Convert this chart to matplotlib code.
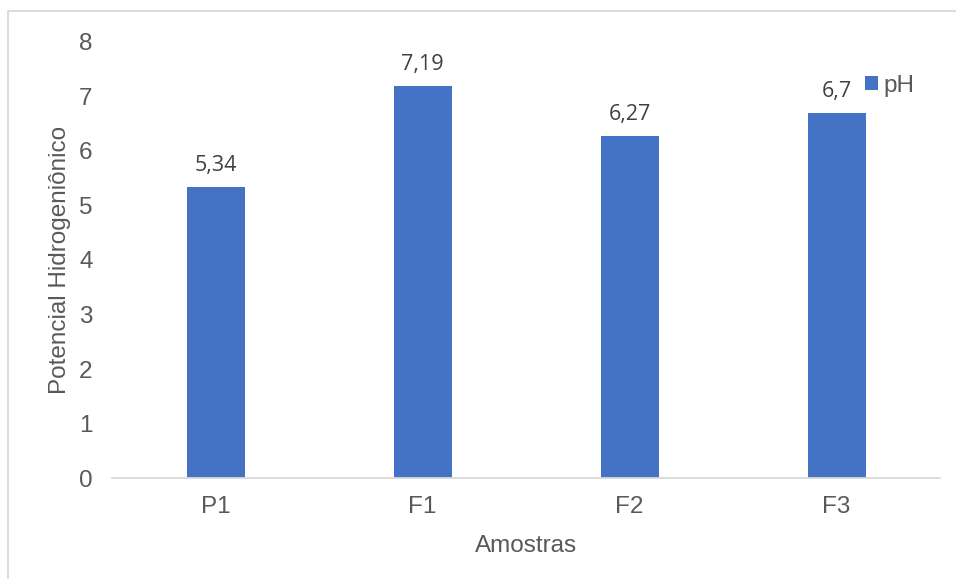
#!/usr/bin/env python3

'''Bar chart of pH per sample.'''

import matplotlib
matplotlib.use('Agg')
import matplotlib.pyplot as plt
from matplotlib.patches import Rectangle

SAMPLES = ['P1', 'F1', 'F2', 'F3']
PH_VALUES = [5.34, 7.19, 6.27, 6.7]
Y_TICKS = [0, 1, 2, 3, 4, 5, 6, 7, 8]

BAR_COLOR = '#4472c4'
TEXT_COLOR = '#595959'
LABEL_COLOR = '#404040'
LINE_COLOR = '#d9d9d9'
FONT_SIZE = 17.5


def fmt_value(value):
    '''Decimal comma, as in the original labels.'''
    return ('%g' % value).replace('.', ',')


def main():
    plt.rcParams['font.family'] = ['Liberation Sans', 'DejaVu Sans']
    fig = plt.figure(figsize=(9.56, 5.79), dpi=100)
    axis = fig.add_axes([0.1172, 0.1744, 0.8661, 0.7531])

    xs = range(len(SAMPLES))
    bars = axis.bar(xs, PH_VALUES, width=0.28, color=BAR_COLOR, label='pH')
    for rect, value in zip(bars, PH_VALUES):
        axis.annotate(fmt_value(value),
                      (rect.get_x() + rect.get_width() / 2, value),
                      xytext=(0, 8), textcoords='offset points',
                      ha='center', va='bottom', fontsize=15.5,
                      color=LABEL_COLOR, family='Open Sans')

    axis.set_xlim(-0.5, len(SAMPLES) - 0.5)
    axis.set_ylim(0, 8)
    axis.set_yticks(Y_TICKS)
    axis.set_xticks(list(xs))
    axis.set_xticklabels(SAMPLES)
    axis.tick_params(axis='both', length=0, labelsize=FONT_SIZE,
                     labelcolor=TEXT_COLOR)
    axis.tick_params(axis='y', pad=14)
    axis.tick_params(axis='x', pad=13)

    for side in ('top', 'right', 'left'):
        axis.spines[side].set_visible(False)
    axis.spines['bottom'].set_color(LINE_COLOR)
    axis.spines['bottom'].set_linewidth(1.3)

    axis.set_xlabel('Amostras', fontsize=FONT_SIZE, color=TEXT_COLOR,
                    labelpad=12)
    axis.set_ylabel('Potencial Hidrogeniônico', fontsize=FONT_SIZE,
                    color=TEXT_COLOR, labelpad=6)

    leg = axis.legend(loc='center left', bbox_to_anchor=(0.9094, 0.9),
                      frameon=False, fontsize=FONT_SIZE, handlelength=0.55,
                      handleheight=0.55, handletextpad=0.22,
                      borderaxespad=0, borderpad=0)
    for text in leg.get_texts():
        text.set_color(TEXT_COLOR)

    # light frame round the chart area, running off the right and bottom edges
    fig.patches.append(Rectangle((8 / 956, -0.05), 1.1, 1 - 11 / 579 + 0.05,
                                 transform=fig.transFigure, fill=False,
                                 edgecolor=LINE_COLOR, linewidth=1.3))

    fig.savefig('out.png', dpi=100)


if __name__ == '__main__':
    main()
